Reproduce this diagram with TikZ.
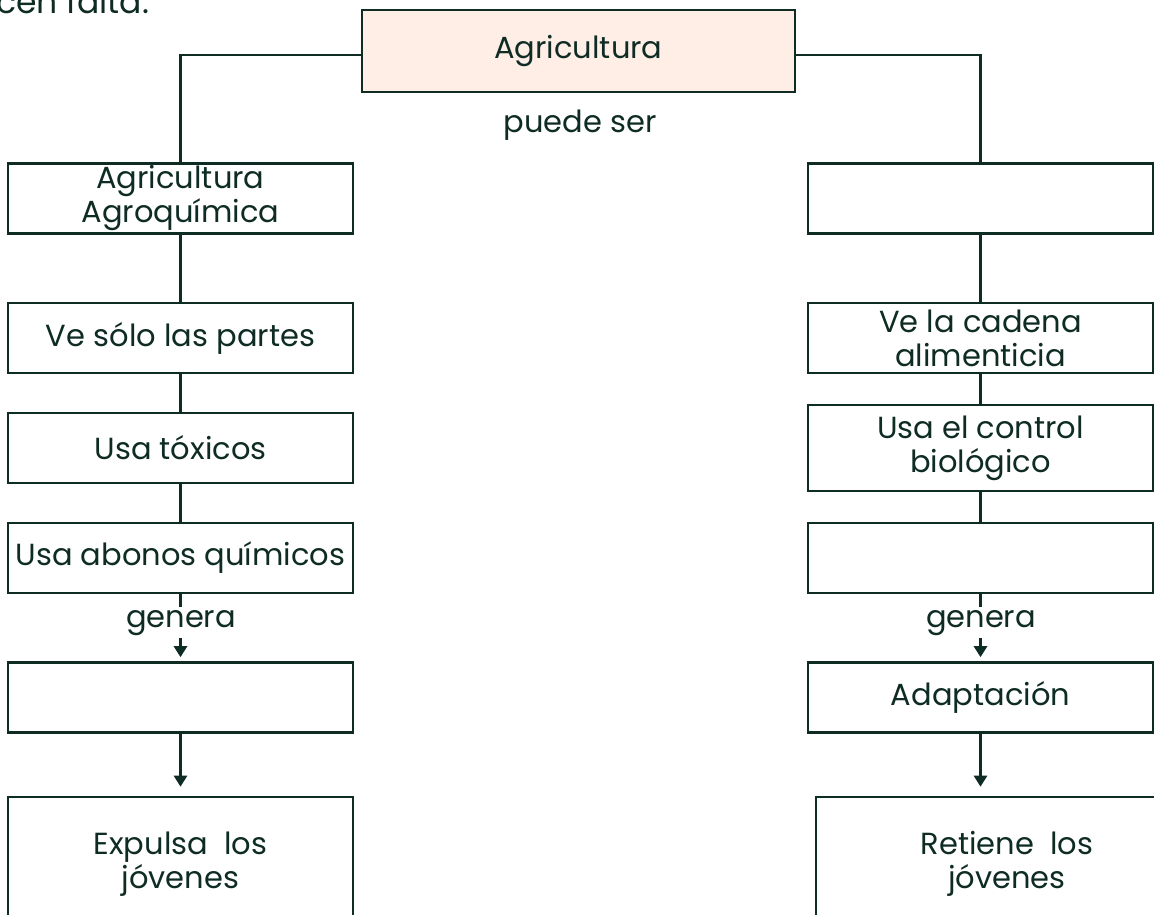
\documentclass[tikz,border=0pt]{standalone}
\usepackage{fontspec}
\setmainfont{Poppins}
\usetikzlibrary{arrows.meta}
\definecolor{ink}{HTML}{0E2B24}
\definecolor{pinkfill}{HTML}{FFEEE6}
\tikzset{
  box/.style={draw=ink, line width=2.6pt, minimum width=345pt, minimum height=70pt,
    align=center, text=ink, inner sep=0pt, font=\fontsize{30.5}{34}\selectfont},
  lbl/.style={text=ink, font=\fontsize{30.5}{34}\selectfont, inner sep=0pt},
  link/.style={draw=ink, line width=2.6pt},
  arr/.style={link, -{Triangle[width=13pt,length=11pt]}},
}
\begin{document}
\begin{tikzpicture}[x=1pt,y=-1pt]
\useasboundingbox (0,0) rectangle (1154,915);
\node[lbl, anchor=base west, font=\fontsize{33}{36}\selectfont] (cut) at (-4,14) {cen falta.};
% top
\node[box, fill=pinkfill, minimum width=433pt, minimum height=82pt] (top) at (578.5,51) {Agricultura};
\node[lbl, anchor=base] (puede) at (580,133) {puede ser};
% left column
\node[box] (L1) at (180.5,198.5) {Agricultura\\Agroquímica};
\node[box] (L2) at (180.5,338) {Ve sólo las partes};
\node[box] (L3) at (180.5,448) {Usa tóxicos};
\node[box] (L4) at (180.5,558) {Usa abonos químicos};
\node[box] (L5) at (180.5,697.5) {};
\node[box, minimum height=134pt] (L6) at (180.5,864) {Expulsa~ los\\jóvenes};
% right column
\node[box] (R1) at (980.5,198.5) {};
\node[box] (R2) at (980.5,338) {Ve la cadena\\alimenticia};
\node[box, minimum height=86pt] (R3) at (980.5,448) {Usa el control\\biológico};
\node[box] (R4) at (980.5,558) {};
\node[box] (R5) at (980.5,697.5) {Adaptación};
\node[box, minimum width=382pt, minimum height=134pt] (R6) at (1007,864) {Retiene~ los\\jóvenes};
% connectors
\draw[link] ([yshift=-4pt]top.west) -| (L1.north);
\draw[link] ([yshift=-4pt]top.east) -| (R1.north);
\draw[link] (L1.south) -- (L2.north);
\draw[link] (L2.south) -- (L3.north);
\draw[link] (L3.south) -- (L4.north);
\draw[link] (R1.south) -- (R2.north);
\draw[link] (R2.south) -- (R3.north);
\draw[link] (R3.south) -- (R4.north);
\draw[arr, shorten >=4pt] (L4.south) -- (L5.north);
\draw[arr, shorten >=4pt] (R4.south) -- (R5.north);
\draw[arr, shorten >=9pt] (L5.south) -- (L5.south |- L6.north);
\draw[arr, shorten >=9pt] (R5.south) -- (R5.south |- R6.north);
\node[lbl, anchor=base, fill=white, inner ysep=3pt, inner xsep=2pt] (gL) at (181,627) {genera};
\node[lbl, anchor=base, fill=white, inner ysep=3pt, inner xsep=2pt] (gR) at (981,627) {genera};
\end{tikzpicture}
\end{document}
